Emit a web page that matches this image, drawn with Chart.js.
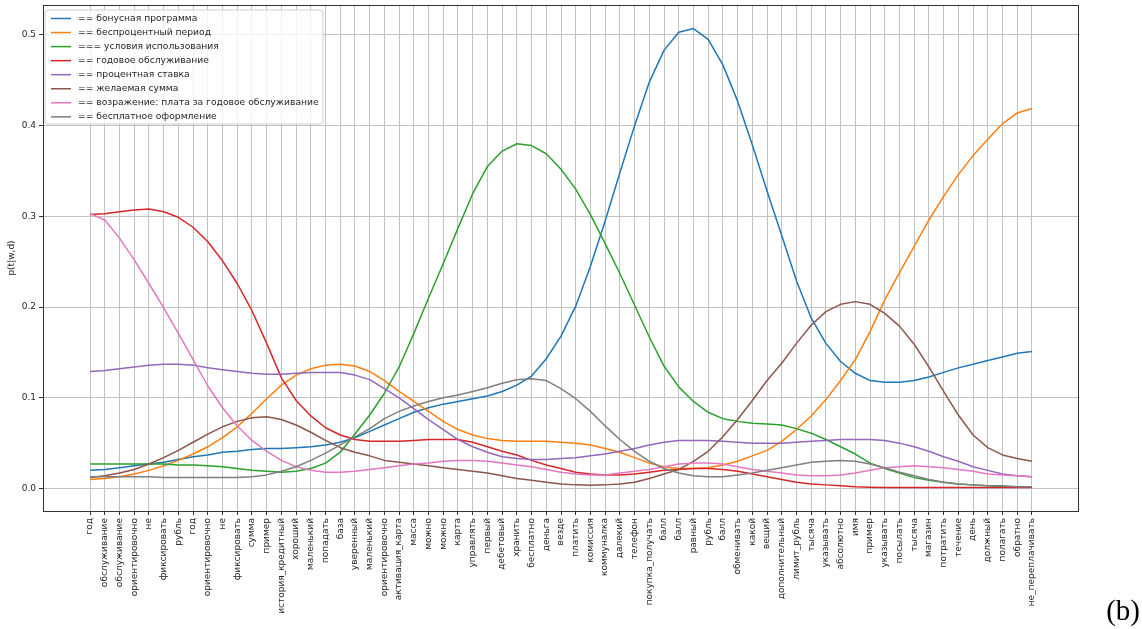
<!DOCTYPE html>
<html>
<head>
<meta charset="utf-8">
<script src="https://cdn.jsdelivr.net/npm/chart.js@4.4.1/dist/chart.umd.min.js"></script>
<style>
  html, body { margin: 0; padding: 0; background: #ffffff; }
  #wrap { width: 1142px; height: 629px; position: relative; }
</style>
</head>
<body>
<div id="wrap"><canvas id="c"></canvas></div>
<script>
// Word tokens along the horizontal axis
const categories = [
  'год', 'обслуживание', 'обслуживание', 'ориентировочно', 'не', 'фиксировать', 'рубль', 'год',
  'ориентировочно', 'не', 'фиксировать', 'сумма', 'пример', 'история_кредитный', 'хороший',
  'маленький', 'попадать', 'база', 'уверенный', 'маленький', 'ориентировочно', 'активация_карта',
  'масса', 'можно', 'можно', 'карта', 'управлять', 'первый', 'дебетовый', 'хранить', 'бесплатно',
  'деньга', 'везде', 'платить', 'комиссия', 'коммуналка', 'далекий', 'телефон', 'покупка_получать',
  'балл', 'балл', 'равный', 'рубль', 'балл', 'обменивать', 'какой', 'вещий', 'дополнительный',
  'лимит_рубль', 'тысяча', 'указывать', 'абсолютно', 'имя', 'пример', 'указывать', 'посылать',
  'тысяча', 'магазин', 'потратить', 'течение', 'день', 'должный', 'полагать', 'обратно',
  'не_переплачивать'
];

// p(t|w,d) for each topic
const bonusProgram = [
  0.020, 0.021, 0.023, 0.025, 0.027, 0.029, 0.032, 0.035, 0.037, 0.040, 0.041, 0.043, 0.044,
  0.044, 0.045, 0.046, 0.048, 0.051, 0.056, 0.063, 0.070, 0.077, 0.084, 0.089, 0.093, 0.096,
  0.099, 0.102, 0.107, 0.114, 0.124, 0.143, 0.168, 0.201, 0.245, 0.295, 0.348, 0.400, 0.448,
  0.483, 0.503, 0.507, 0.495, 0.467, 0.427, 0.379, 0.328, 0.279, 0.229, 0.188, 0.160, 0.140,
  0.127, 0.119, 0.117, 0.117, 0.119, 0.123, 0.128, 0.133, 0.137, 0.141, 0.145, 0.149, 0.151
];
const interestFree = [
  0.010, 0.011, 0.013, 0.016, 0.020, 0.025, 0.031, 0.038, 0.046, 0.056, 0.068, 0.083, 0.099,
  0.114, 0.125, 0.132, 0.136, 0.137, 0.135, 0.129, 0.119, 0.107, 0.096, 0.085, 0.074, 0.065,
  0.059, 0.055, 0.053, 0.052, 0.052, 0.052, 0.051, 0.050, 0.048, 0.044, 0.040, 0.034, 0.028,
  0.024, 0.022, 0.022, 0.023, 0.026, 0.030, 0.036, 0.042, 0.052, 0.065, 0.080, 0.098, 0.119,
  0.142, 0.173, 0.208, 0.238, 0.267, 0.296, 0.322, 0.346, 0.367, 0.385, 0.402, 0.414, 0.419
];
const termsOfUse = [
  0.027, 0.027, 0.027, 0.027, 0.027, 0.027, 0.026, 0.026, 0.025, 0.024, 0.022, 0.020, 0.019,
  0.018, 0.019, 0.022, 0.028, 0.040, 0.060, 0.081, 0.105, 0.134, 0.171, 0.210, 0.248, 0.287,
  0.325, 0.355, 0.372, 0.380, 0.378, 0.369, 0.352, 0.330, 0.302, 0.270, 0.237, 0.202, 0.167,
  0.135, 0.112, 0.096, 0.084, 0.077, 0.074, 0.072, 0.071, 0.070, 0.066, 0.061, 0.054, 0.046,
  0.038, 0.028, 0.022, 0.017, 0.012, 0.009, 0.007, 0.005, 0.004, 0.003, 0.002, 0.002, 0.002
];
const annualService = [
  0.302, 0.303, 0.305, 0.307, 0.308, 0.305, 0.299, 0.288, 0.272, 0.251, 0.226, 0.196, 0.160,
  0.122, 0.097, 0.080, 0.067, 0.059, 0.054, 0.052, 0.052, 0.052, 0.053, 0.054, 0.054, 0.054,
  0.051, 0.046, 0.041, 0.037, 0.031, 0.026, 0.022, 0.018, 0.016, 0.015, 0.015, 0.016, 0.018,
  0.020, 0.021, 0.022, 0.022, 0.021, 0.019, 0.016, 0.013, 0.010, 0.007, 0.005, 0.004, 0.003,
  0.002, 0.0015, 0.001, 0.001, 0.001, 0.001, 0.001, 0.001, 0.001, 0.001, 0.001, 0.001, 0.001
];
const interestRate = [
  0.129, 0.130, 0.132, 0.134, 0.136, 0.137, 0.137, 0.136, 0.133, 0.131, 0.129, 0.127, 0.126,
  0.126, 0.127, 0.128, 0.128, 0.128, 0.125, 0.120, 0.110, 0.100, 0.088, 0.076, 0.065, 0.054,
  0.046, 0.040, 0.035, 0.033, 0.032, 0.032, 0.033, 0.034, 0.036, 0.038, 0.041, 0.044, 0.048,
  0.051, 0.053, 0.053, 0.053, 0.052, 0.051, 0.050, 0.050, 0.050, 0.051, 0.052, 0.053, 0.054,
  0.054, 0.054, 0.053, 0.050, 0.046, 0.041, 0.035, 0.030, 0.024, 0.020, 0.016, 0.014, 0.013
];
const desiredAmount = [
  0.012, 0.014, 0.017, 0.021, 0.027, 0.034, 0.042, 0.051, 0.060, 0.068, 0.074, 0.078, 0.079,
  0.076, 0.070, 0.062, 0.053, 0.045, 0.040, 0.036, 0.031, 0.029, 0.027, 0.025, 0.023, 0.021,
  0.019, 0.017, 0.014, 0.011, 0.009, 0.007, 0.005, 0.004, 0.0035, 0.004, 0.005, 0.007, 0.011,
  0.016, 0.021, 0.030, 0.041, 0.057, 0.076, 0.097, 0.119, 0.138, 0.160, 0.180, 0.195, 0.203,
  0.206, 0.203, 0.193, 0.179, 0.159, 0.134, 0.107, 0.081, 0.059, 0.045, 0.037, 0.033, 0.030
];
const feeObjection = [
  0.303, 0.296, 0.276, 0.252, 0.226, 0.199, 0.171, 0.142, 0.113, 0.089, 0.069, 0.053, 0.041,
  0.031, 0.024, 0.020, 0.018, 0.018, 0.019, 0.021, 0.023, 0.025, 0.027, 0.028, 0.030, 0.031,
  0.031, 0.030, 0.028, 0.026, 0.024, 0.021, 0.018, 0.016, 0.015, 0.015, 0.017, 0.019, 0.021,
  0.024, 0.027, 0.028, 0.028, 0.027, 0.024, 0.021, 0.019, 0.017, 0.015, 0.014, 0.014, 0.015,
  0.017, 0.020, 0.023, 0.024, 0.025, 0.024, 0.023, 0.021, 0.019, 0.016, 0.015, 0.014, 0.013
];
const freeIssue = [
  0.013, 0.013, 0.013, 0.013, 0.013, 0.012, 0.012, 0.012, 0.012, 0.012, 0.012, 0.013, 0.015,
  0.019, 0.024, 0.031, 0.039, 0.048, 0.057, 0.066, 0.077, 0.085, 0.091, 0.096, 0.100, 0.103,
  0.107, 0.111, 0.116, 0.120, 0.121, 0.119, 0.110, 0.099, 0.085, 0.069, 0.054, 0.041, 0.030,
  0.022, 0.017, 0.014, 0.013, 0.013, 0.015, 0.017, 0.020, 0.023, 0.026, 0.029, 0.030, 0.031,
  0.030, 0.027, 0.023, 0.018, 0.014, 0.010, 0.007, 0.005, 0.004, 0.003, 0.003, 0.002, 0.002
];

const seriesNames = [
  '== бонусная программа',
  '== беспроцентный период',
  '=== условия использования',
  '== годовое обслуживание',
  '== процентная ставка',
  '== желаемая сумма',
  '== возражение: плата за годовое обслуживание',
  '== бесплатное оформление'
];
const seriesValues = [bonusProgram, interestFree, termsOfUse, annualService,
                      interestRate, desiredAmount, feeObjection, freeIssue];
const yTicks = [0.0, 0.1, 0.2, 0.3, 0.4, 0.5];

const palette = ['#1f77b4', '#ff7f0e', '#2ca02c', '#d62728',
                 '#9467bd', '#8c564b', '#e377c2', '#7f7f7f'];
const FONT = 'DejaVu Sans';
const TEXT = '#262626';

const datasets = seriesValues.map((vals, k) => ({
  label: seriesNames[k],
  data: vals.map((v, i) => ({ x: i, y: v })),
  borderColor: palette[k],
  backgroundColor: palette[k],
  borderWidth: 1.5,
  pointRadius: 0,
  tension: 0,
  fill: false,
  borderJoinStyle: 'round',
  order: seriesValues.length - k
}));

// axes frame, inset legend and the panel letter
const decorations = {
  id: 'decorations',
  afterDraw(chart) {
    const { ctx, chartArea: a } = chart;
    ctx.save();
    ctx.strokeStyle = '#333333';
    ctx.lineWidth = 1;
    ctx.strokeRect(Math.round(a.left) + 0.5, Math.round(a.top) + 0.5,
                   Math.round(a.right - a.left) - 1, Math.round(a.bottom - a.top));

    // legend box
    const bx = a.left + 2, by = a.top + 5, bw = 278, bh = 114, r = 3;
    ctx.beginPath();
    ctx.moveTo(bx + r, by);
    ctx.arcTo(bx + bw, by, bx + bw, by + bh, r);
    ctx.arcTo(bx + bw, by + bh, bx, by + bh, r);
    ctx.arcTo(bx, by + bh, bx, by, r);
    ctx.arcTo(bx, by, bx + bw, by, r);
    ctx.closePath();
    ctx.fillStyle = 'rgba(255,255,255,0.8)';
    ctx.fill();
    ctx.strokeStyle = '#d0d0d0';
    ctx.stroke();

    ctx.font = '9.2px "' + FONT + '"';
    ctx.textBaseline = 'middle';
    ctx.textAlign = 'left';
    chart.data.datasets.forEach((ds, k) => {
      const y = by + 8.5 + k * 14.05;
      ctx.strokeStyle = ds.borderColor;
      ctx.lineWidth = 1.5;
      ctx.beginPath();
      ctx.moveTo(bx + 6, y);
      ctx.lineTo(bx + 26, y);
      ctx.stroke();
      ctx.fillStyle = TEXT;
      ctx.fillText(ds.label, bx + 33, y);
    });

    // panel letter
    ctx.fillStyle = '#000000';
    ctx.font = '29px "Liberation Serif"';
    ctx.textAlign = 'right';
    ctx.textBaseline = 'alphabetic';
    ctx.fillText('(b)', 1140, 620);
    ctx.restore();
  }
};

new Chart(document.getElementById('c'), {
  type: 'line',
  data: { datasets },
  plugins: [decorations],
  options: {
    responsive: true,
    maintainAspectRatio: false,
    animation: false,
    layout: { padding: { left: 0, top: 5, right: 63, bottom: 0 } },
    plugins: { legend: { display: false }, tooltip: { enabled: false } },
    scales: {
      x: {
        type: 'linear',
        min: -3.2,
        max: categories.length - 1 + 3.2,
        afterBuildTicks: (s) => { s.ticks = categories.map((_, i) => ({ value: i })); },
        afterFit: (s) => { s.height = 118; s.paddingLeft = 0; s.paddingRight = 0; },
        ticks: {
          autoSkip: false,
          minRotation: 90,
          maxRotation: 90,
          padding: 3,
          color: TEXT,
          font: { family: FONT, size: 9 },
          callback: (v) => categories[v]
        },
        grid: { color: '#c2c2c2', lineWidth: 1, tickColor: '#333333', tickLength: 4 },
        border: { display: false }
      },
      y: {
        type: 'linear',
        min: -0.0248,
        max: 0.533,
        afterBuildTicks: (s) => { s.ticks = yTicks.map(v => ({ value: v })); },
        afterFit: (s) => { s.width = 43; s.paddingTop = 0; s.paddingBottom = 0; },
        ticks: {
          padding: 3,
          color: TEXT,
          font: { family: FONT, size: 9 },
          callback: (v) => Number(v).toFixed(1)
        },
        grid: { color: '#c2c2c2', lineWidth: 1, tickColor: '#333333', tickLength: 4 },
        border: { display: false },
        title: {
          display: true,
          text: 'p(t|w,d)',
          color: TEXT,
          font: { family: FONT, size: 9 },
          padding: { top: 6, bottom: 0 }
        }
      }
    }
  }
});
</script>
</body>
</html>
